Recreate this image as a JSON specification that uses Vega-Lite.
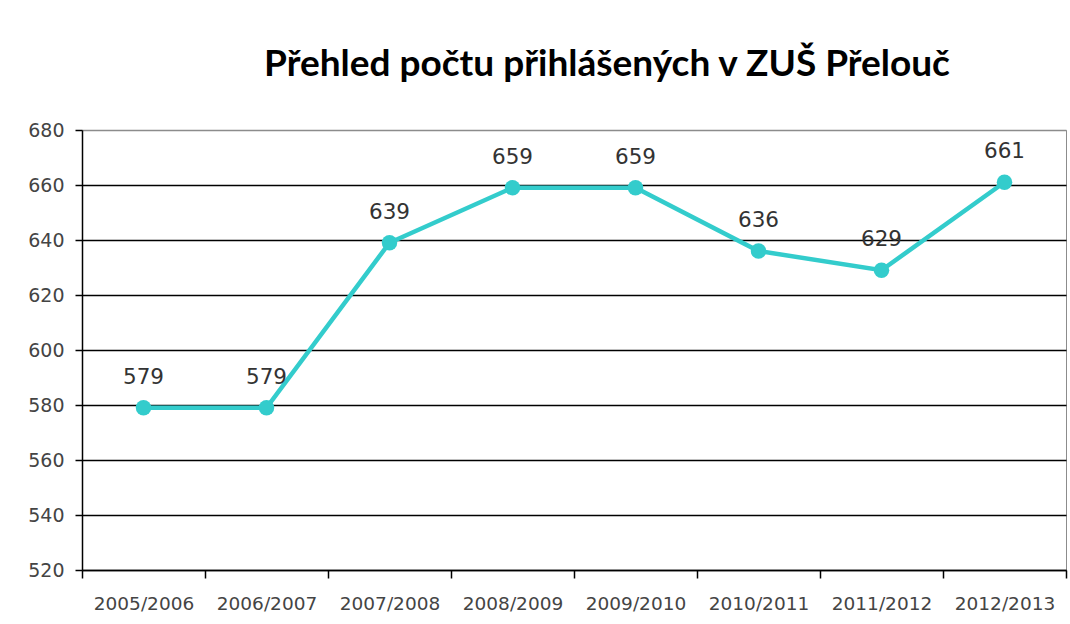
{
  "$schema": "https://vega.github.io/schema/vega-lite/v6.json",
  "autosize": "none",
  "width": 984,
  "height": 440,
  "padding": {"left": 82, "top": 130, "right": 4, "bottom": 54},
  "background": "white",
  "title": {
    "text": "Přehled počtu přihlášených v ZUŠ Přelouč",
    "font": "Lato",
    "fontSize": 37,
    "fontWeight": "bold",
    "color": "#000000",
    "anchor": "middle",
    "frame": "group",
    "dx": 33,
    "offset": 37
  },
  "config": {
    "view": {"stroke": "#8c8c8c", "strokeWidth": 1},
    "axis": {
      "labelFont": "DejaVu Sans",
      "labelColor": "#444444",
      "domainColor": "#000000",
      "tickColor": "#000000",
      "titleFontSize": 0
    }
  },
  "data": {
    "values": [
      {"year": "2005/2006", "count": 579},
      {"year": "2006/2007", "count": 579},
      {"year": "2007/2008", "count": 639},
      {"year": "2008/2009", "count": 659},
      {"year": "2009/2010", "count": 659},
      {"year": "2010/2011", "count": 636},
      {"year": "2011/2012", "count": 629},
      {"year": "2012/2013", "count": 661}
    ]
  },
  "encoding": {
    "x": {
      "field": "year",
      "type": "nominal",
      "sort": null,
      "scale": {"paddingInner": 0, "paddingOuter": 0},
      "axis": {
        "title": null,
        "labelAngle": 0,
        "labelFontSize": 18.5,
        "tickBand": "extent",
        "tickSize": 8,
        "tickWidth": 1.5,
        "domainWidth": 1.5,
        "labelPadding": 16,
        "grid": false
      }
    },
    "y": {
      "field": "count",
      "type": "quantitative",
      "scale": {"domain": [520, 680], "nice": false, "zero": false},
      "axis": {
        "title": null,
        "values": [520, 540, 560, 580, 600, 620, 640, 660, 680],
        "labelFontSize": 19,
        "tickSize": 7,
        "tickWidth": 1.5,
        "domainWidth": 1.5,
        "labelPadding": 11,
        "grid": true,
        "gridColor": {"condition": {"test": "datum.value == 680", "value": "#8c8c8c"}, "value": "#000000"},
        "gridWidth": 1.4,
        "gridOpacity": 1
      }
    }
  },
  "layer": [
    {
      "mark": {"type": "line", "color": "#33CCCC", "strokeWidth": 4.5}
    },
    {
      "mark": {"type": "point", "filled": true, "shape": "circle", "color": "#33CCCC", "size": 240, "opacity": 1}
    },
    {
      "mark": {"type": "text", "dy": -30, "font": "DejaVu Sans", "fontSize": 21.5, "color": "#333333"},
      "encoding": {"text": {"field": "count", "type": "quantitative"}}
    }
  ]
}
